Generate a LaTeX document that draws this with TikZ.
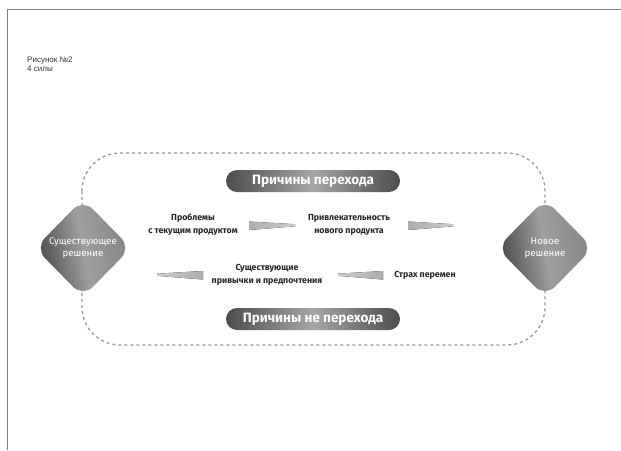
\documentclass[tikz,border=0pt]{standalone}
\usepackage{fontspec}
\setmainfont{Fira Sans}
\newfontfamily\hdrfont{Liberation Sans}
\usetikzlibrary{shapes.geometric}
\tikzset{
  frameline/.style={draw=black!50, line width=1pt},
  dashbox/.style={draw=black!40, line width=1.3pt, dash pattern=on 3pt off 3pt, rounded corners=38pt},
  dia/.style={diamond, minimum width=96pt, minimum height=98pt, inner sep=0pt, rounded corners=14pt,
     left color=black!72, right color=black!48, middle color=black!38, shading angle=100},
  diatext/.style={text=white, font=\fontsize{9.7}{12.5}\selectfont, align=center},
  pill/.style={rounded corners=11pt, minimum width=174pt, minimum height=22pt, inner sep=0pt,
     left color=black!70, right color=black!70, middle color=black!35, text=white,
     font=\fontsize{13.5}{15}\selectfont\bfseries},
  lbl/.style={font=\fontsize{8.8}{13}\selectfont\bfseries, text=black!85, align=center, inner sep=1pt},
  wedgefill/.style={left color=black!32, right color=black!20},
  hdr/.style={font=\hdrfont\fontsize{8}{9}\selectfont, text=black!80, align=left, anchor=north west, inner sep=0pt}
}
\begin{document}
\begin{tikzpicture}[x=1pt,y=-1pt]
\useasboundingbox (0,0) rectangle (621,450);
\fill[white] (0,0) rectangle (621,450);
% frame
\coordinate (fTL) at (7,9);
\coordinate (fTR) at (621,9);
\coordinate (fBL) at (7,450);
\draw[frameline] (fTR) -- (fTL) -- (fBL);
% header
\node[hdr] (title) at (27,57) {Рисунок №2\\4 силы};
% dashed loop
\draw[dashbox] (82,153) rectangle (545,345);
% diamonds
\node[dia] (cur) at (83,248) {};
\node[diatext] (curtxt) at (cur.center) {Существующее\\решение};
\node[dia] (new) at (545,248) {};
\node[diatext] (newtxt) at (new.center) {Новое\\решение};
% pills
\node[pill] (pro) at (313,181) {Причины перехода};
\node[pill] (contra) at (313,319) {Причины не перехода};
% labels
\node[lbl] (prob) at (193,224.5) {Проблемы\\с текущим продуктом};
\node[lbl] (attr) at (349,224.5) {Привлекательность\\нового продукта};
\node[lbl] (habit) at (267,274.5) {Существующие\\привычки и предпочтения};
\node[lbl] (fear) at (425,275) {Страх перемен};
% wedges
\fill[wedgefill] (249,221.5) -- (295,224.2) -- (295,226.3) -- (249,230) -- cycle;
\fill[wedgefill] (408,221.5) -- (453,224.2) -- (453,226.3) -- (408,230) -- cycle;
\fill[wedgefill, left color=black!20, right color=black!32] (157,273.7) -- (203,271) -- (203,279.5) -- (157,275.8) -- cycle;
\fill[wedgefill, left color=black!20, right color=black!32] (338,273.7) -- (383,271) -- (383,279.5) -- (338,275.8) -- cycle;
\end{tikzpicture}
\end{document}
